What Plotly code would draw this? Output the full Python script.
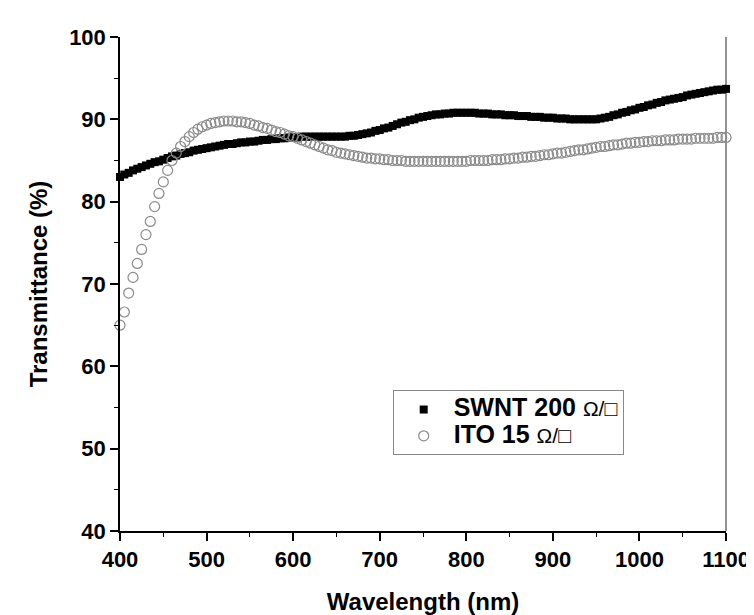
import plotly.graph_objects as go

wavelength = list(range(400, 1101, 5))

swnt = [
    83.0, 83.3, 83.5, 83.8, 84.0, 84.2, 84.4, 84.6, 84.8, 84.9,
    85.1, 85.3, 85.5, 85.6, 85.8, 85.9, 86.0, 86.2, 86.3, 86.4,
    86.5, 86.6, 86.7, 86.8, 86.9, 87.0, 87.0, 87.1, 87.2, 87.2,
    87.3, 87.3, 87.4, 87.5, 87.5, 87.6, 87.6, 87.7, 87.7, 87.8,
    87.8, 87.8, 87.9, 87.9, 87.9, 87.9, 87.9, 87.9, 87.9, 87.9,
    87.9, 87.9, 87.9, 88.0, 88.0, 88.1, 88.2, 88.3, 88.4, 88.6,
    88.7, 88.9, 89.0, 89.2, 89.4, 89.6, 89.7, 89.9, 90.0, 90.2,
    90.3, 90.4, 90.5, 90.6, 90.6, 90.7, 90.7, 90.8, 90.8, 90.8,
    90.8, 90.8, 90.8, 90.7, 90.7, 90.7, 90.6, 90.6, 90.6, 90.5,
    90.5, 90.5, 90.4, 90.4, 90.4, 90.3, 90.3, 90.3, 90.2, 90.2,
    90.2, 90.1, 90.1, 90.1, 90.0, 90.0, 90.0, 90.0, 90.0, 90.0,
    90.0, 90.1, 90.2, 90.3, 90.5, 90.6, 90.8, 90.9, 91.1, 91.2,
    91.4, 91.5, 91.7, 91.8, 92.0, 92.1, 92.3, 92.4, 92.5, 92.6,
    92.7, 92.9, 93.0, 93.1, 93.2, 93.3, 93.4, 93.5, 93.6, 93.6,
    93.7,
]

ito = [
    65.0, 66.6, 68.9, 70.8, 72.5, 74.2, 76.0, 77.6, 79.4, 81.0,
    82.4, 83.8, 85.0, 85.9, 86.7, 87.3, 87.9, 88.4, 88.8, 89.1,
    89.3, 89.5, 89.6, 89.7, 89.8, 89.8, 89.8, 89.7, 89.7, 89.6,
    89.5, 89.3, 89.2, 89.0, 88.9, 88.7, 88.5, 88.4, 88.2, 88.0,
    87.9, 87.7, 87.5, 87.3, 87.1, 86.9, 86.7, 86.5, 86.3, 86.2,
    86.0, 85.9, 85.8, 85.7, 85.6, 85.5, 85.4, 85.3, 85.3, 85.2,
    85.2, 85.1, 85.1, 85.0, 85.0, 85.0, 84.9, 84.9, 84.9, 84.9,
    84.9, 84.9, 84.9, 84.9, 84.9, 84.9, 84.9, 84.9, 84.9, 84.9,
    84.9, 85.0, 85.0, 85.0, 85.0, 85.0, 85.1, 85.1, 85.1, 85.2,
    85.2, 85.3, 85.3, 85.4, 85.4, 85.5, 85.5, 85.6, 85.7, 85.7,
    85.8, 85.9, 85.9, 86.0, 86.1, 86.2, 86.3, 86.3, 86.4, 86.5,
    86.6, 86.7, 86.7, 86.8, 86.9, 86.9, 87.0, 87.1, 87.1, 87.2,
    87.2, 87.3, 87.3, 87.4, 87.4, 87.4, 87.5, 87.5, 87.5, 87.6,
    87.6, 87.6, 87.6, 87.7, 87.7, 87.7, 87.7, 87.7, 87.8, 87.8,
    87.8,
]

series_names = [
    "<span style='font-size:25px'><b>SWNT 200</b> </span><span style='font-size:21px'>Ω/□</span>",
    "<span style='font-size:25px'><b>ITO 15</b> </span><span style='font-size:21px'>Ω/□</span>",
]

FONT = "Arial, 'Liberation Sans', sans-serif"

fig = go.Figure()
fig.add_trace(go.Scatter(
    x=wavelength, y=swnt, mode="markers", name=series_names[0],
    marker=dict(symbol="square", size=8, color="black", line=dict(width=0)),
    cliponaxis=False,
))
fig.add_trace(go.Scatter(
    x=wavelength, y=ito, mode="markers", name=series_names[1],
    marker=dict(symbol="circle-open", size=10, color="#8a8a8a", line=dict(width=1.2)),
    cliponaxis=False,
))

fig.update_layout(
    width=754, height=615,
    margin=dict(l=112, r=31, t=29, b=88),
    paper_bgcolor="white", plot_bgcolor="white",
    font=dict(family=FONT, color="black"),
    showlegend=True,
    legend=dict(
        x=0.45, y=0.285, xanchor="left", yanchor="top",
        bgcolor="white", bordercolor="#888888", borderwidth=1,
        font=dict(family=FONT, size=18, color="black"),
        itemwidth=50, tracegroupgap=0,
    ),
    shapes=[dict(
        type="line", xref="paper", yref="paper",
        x0=1, x1=1, y0=0, y1=1,
        line=dict(color="#6e6e6e", width=1.5), layer="below",
    )],
)

fig.update_xaxes(
    range=[400, 1100], dtick=100, tick0=400,
    showgrid=False, zeroline=False,
    showline=True, linecolor="black", linewidth=1.5, mirror=False,
    ticks="outside", ticklen=8, tickwidth=1.5, tickcolor="black",
    minor=dict(dtick=50, ticks="outside", ticklen=4, tickwidth=1.2, tickcolor="black", showgrid=False),
    tickfont=dict(family=FONT, size=22, weight="bold"),
    title=dict(text="Wavelength (nm)", font=dict(family=FONT, size=24, weight="bold"), standoff=22),
)
fig.update_yaxes(
    range=[40, 100], dtick=10, tick0=40,
    showgrid=False, zeroline=False,
    showline=True, linecolor="black", linewidth=1.5, mirror=False,
    ticks="outside", ticklen=8, tickwidth=1.5, tickcolor="black",
    minor=dict(dtick=5, ticks="outside", ticklen=4, tickwidth=1.2, tickcolor="black", showgrid=False),
    tickfont=dict(family=FONT, size=22, weight="bold"),
    title=dict(text="Transmittance (%)", font=dict(family=FONT, size=24, weight="bold"), standoff=15),
)

fig.write_html("out.html")
